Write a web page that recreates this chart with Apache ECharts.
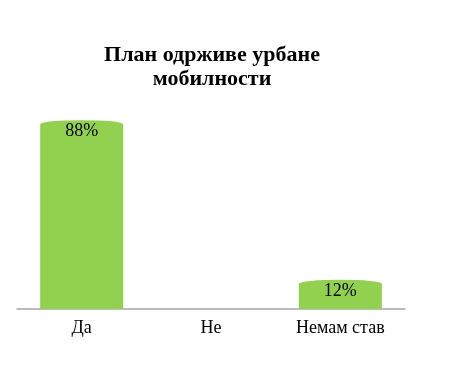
<!DOCTYPE html>
<html><head><meta charset="utf-8">
<script src="https://cdn.jsdelivr.net/npm/echarts@6/dist/echarts.min.js"></script>
<style>html,body{margin:0;padding:0;background:#fff}#c{width:450px;height:375px}</style>
</head><body><div id="c"></div>
<script>
const titleText = 'План одрживе урбане\nмобилности';
const categories = ['Да', 'Не', 'Немам став'];
const values = [88, 0, 12];
const valueLabels = ['88%', '', '12%'];

const chart = echarts.init(document.getElementById('c'), null, {renderer: 'canvas'});
const green = '#92D050';
chart.setOption({
  animation: false,
  title: {
    text: titleText, left: 207, top: 38, textAlign: 'center',
    textStyle: {fontFamily: 'Liberation Serif', fontWeight: 'bold', fontSize: 22, lineHeight: 24, color: '#000'}
  },
  grid: {left: 17, right: 45, top: 99, bottom: 66},
  xAxis: {
    type: 'category', data: categories,
    axisLine: {lineStyle: {color: '#a6a6a6', width: 1.5}},
    axisTick: {show: false},
    axisLabel: {fontFamily: 'Liberation Serif', fontSize: 18, color: '#000', margin: 10}
  },
  yAxis: {type: 'value', min: 0, max: 100, show: false, splitLine: {show: false}},
  series: [
    {
      type: 'bar', data: values, barWidth: 83,
      itemStyle: {color: green},
      label: {
        show: true, position: 'insideTop', distance: -2,
        formatter: p => valueLabels[p.dataIndex],
        fontFamily: 'Liberation Serif', fontSize: 18, color: '#000'
      },
      z: 2
    },
    {
      type: 'pictorialBar', data: values.map(v => v > 0 ? v : null),
      symbol: 'circle', symbolSize: [83, 8], symbolPosition: 'end',
      symbolOffset: [0, '-50%'], itemStyle: {color: green}, z: 1,
      silent: true
    }
  ]
});
</script></body></html>
